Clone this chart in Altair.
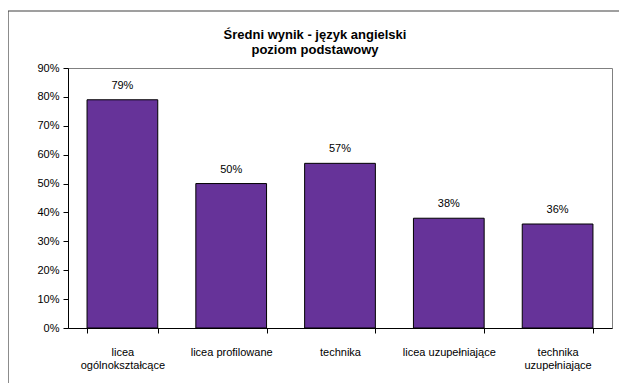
import altair as alt
import pandas as pd

title_lines = ["Średni wynik  - język angielski", "poziom podstawowy"]
categories = ["licea|ogólnokształcące", "licea profilowane", "technika", "licea uzupełniające", "technika|uzupełniające"]
values = [0.79, 0.50, 0.57, 0.38, 0.36]
labels = ["79%", "50%", "57%", "38%", "36%"]
y_ticks = [0.0, 0.1, 0.2, 0.3, 0.4, 0.5, 0.6, 0.7, 0.8, 0.9]

df = pd.DataFrame({"kat": categories, "wynik": values, "etykieta": labels})
title_df = pd.DataFrame({"t": [0]})

W, H = 544, 260
FONT = "Liberation Sans"

x_enc = alt.X("kat:N", sort=categories, title=None,
              scale=alt.Scale(paddingInner=0.35, paddingOuter=0.175),
              axis=alt.Axis(labelAngle=0,
                            labelExpr="datum.value ? split(datum.value, '|') : ''",
                            tickBand="extent", domainColor="black", tickColor="black",
                            tickSize=5, labelPadding=13, labelFontSize=11, labelFont=FONT,
                            labelColor="black", labelLineHeight=13, labelBaseline="top",
                            labelOverlap=False, zindex=1))
y_enc = alt.Y("wynik:Q", title=None,
              scale=alt.Scale(domain=[0, 0.9], nice=False, zero=True),
              axis=alt.Axis(format=".0%", values=y_ticks, tickCount=10, grid=False,
                            domainColor="black", tickColor="black", tickSize=5,
                            labelFontSize=11, labelFont=FONT, labelColor="black", labelPadding=4,
                            labelOverlap=False, labelFlush=False, labelBound=False, zindex=1))

frame = alt.Chart(title_df).mark_rect(filled=False, stroke="#404040", strokeWidth=1.2).encode(
    x=alt.value(-60), x2=alt.value(W + 40), y=alt.value(-57), y2=alt.value(H + 80)
)

bars = alt.Chart(df).mark_bar(color="#663399", stroke="black", strokeWidth=1).encode(
    x=x_enc, y=y_enc
)

text = alt.Chart(df).mark_text(baseline="bottom", dy=-9, fontSize=11, font=FONT, color="black").encode(
    x=x_enc, y=y_enc, text="etykieta:N"
)

title = alt.Chart(title_df).mark_text(fontSize=13, font=FONT, fontWeight="bold", color="black",
                                      lineHeight=15, baseline="top", align="center").encode(
    x=alt.value(247), y=alt.value(-39), text=alt.value(title_lines)
)

chart = alt.layer(frame, bars, text, title).properties(
    width=W, height=H,
    autosize=alt.AutoSizeParams(type="none"),
    padding={"left": 60, "top": 60, "right": 7, "bottom": 55},
).configure_view(stroke="#808080", strokeWidth=1)

chart.save("out.html", embed_options={"renderer": "svg", "actions": False})
